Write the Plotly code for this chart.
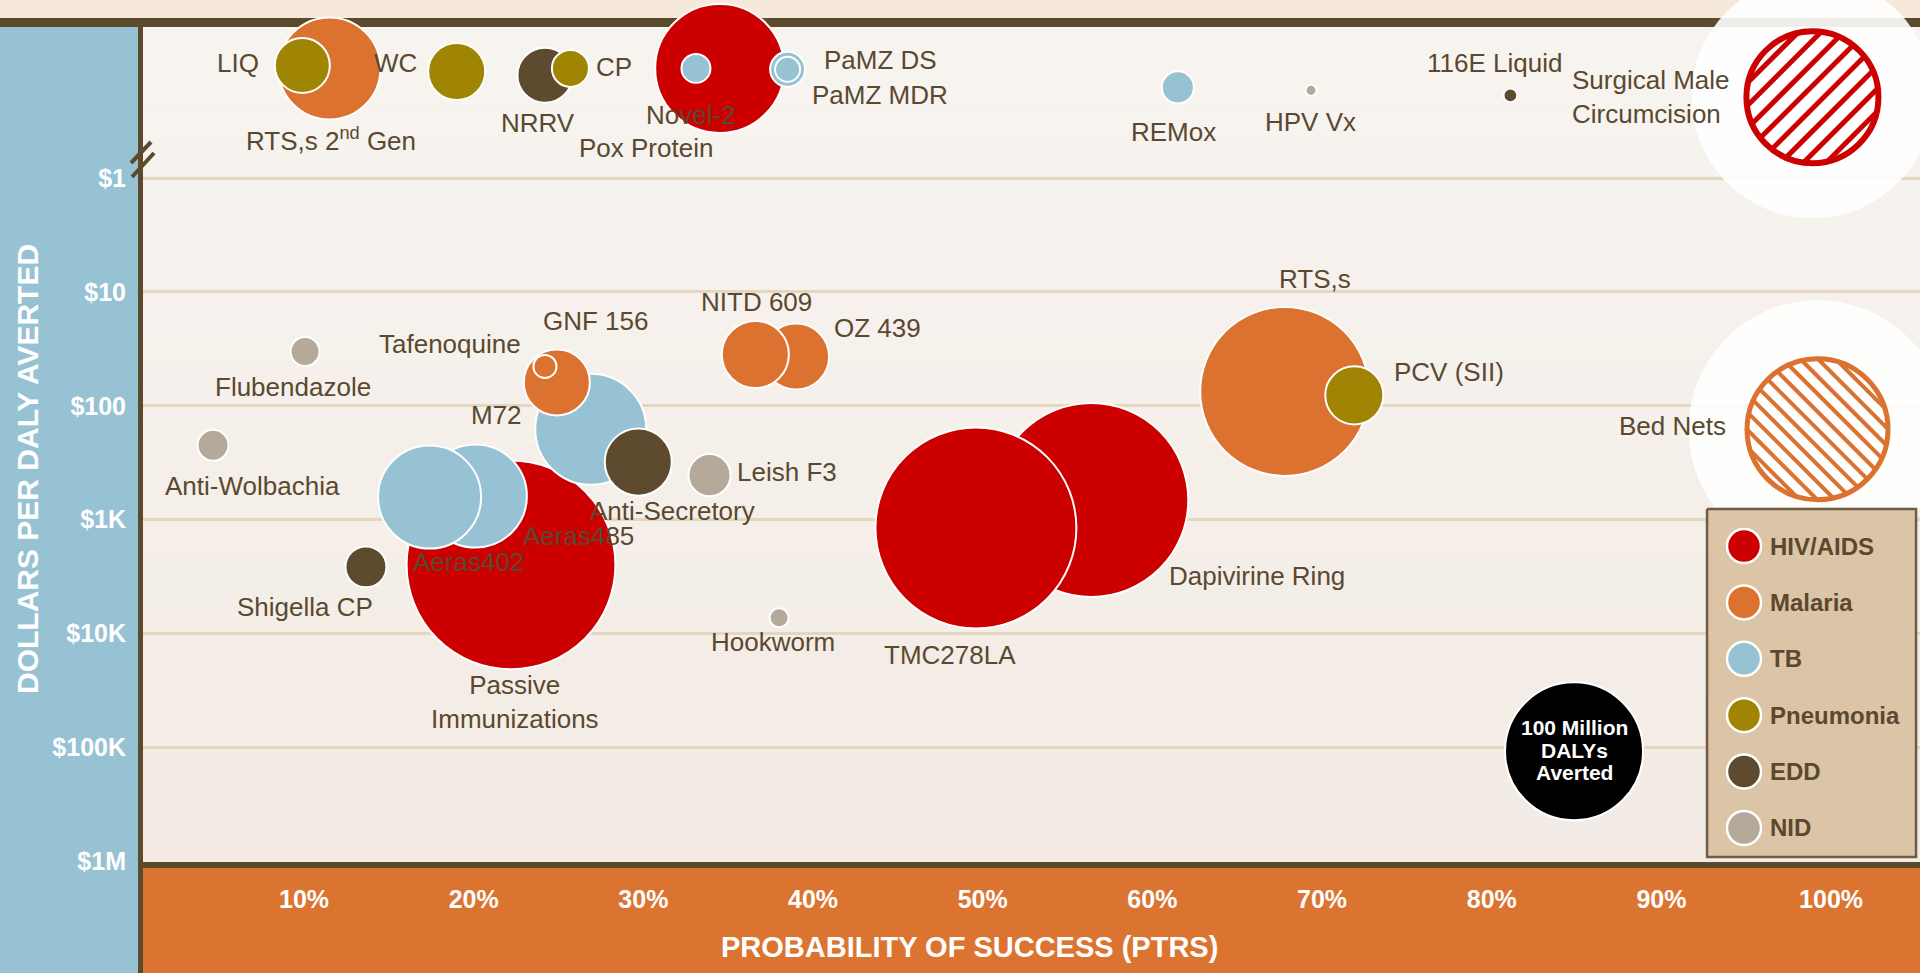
import numpy as np
import plotly.graph_objects as go

# ---------------- data ----------------
categories = ["HIV/AIDS", "Malaria", "TB", "Pneumonia", "EDD", "NID"]
cat_colors = ["#CC0000", "#DB7230", "#96C2D4", "#A08505", "#5E4A2E", "#B5A99A"]
draw_order = ["HIV/AIDS", "TB", "Malaria", "EDD", "Pneumonia", "NID"]

# products (PTRS in %, cost in $ per DALY averted, DALYs averted in millions)
prod_name = ["Pox Protein", "Passive Immunizations", "Dapivirine Ring", "TMC278LA",
             "Novel-2", "PaMZ DS", "PaMZ MDR", "REMox", "M72", "Aeras485", "Aeras402",
             "RTS,s 2nd Gen", "Tafenoquine", "GNF 156", "OZ 439", "NITD 609", "RTS,s",
             "NRRV", "116E Liquid", "Anti-Secretory", "Shigella CP",
             "LIQ", "WC", "CP", "PCV (SII)",
             "HPV Vx", "Flubendazole", "Anti-Wolbachia", "Leish F3", "Hookworm"]
prod_disease = ["HIV/AIDS"] * 4 + ["TB"] * 7 + ["Malaria"] * 6 + ["EDD"] * 4 + ["Pneumonia"] * 4 + ["NID"] * 5
prod_ptrs = [34.5, 22.2, 56.4, 49.6,
             33.1, 38.5, 38.5, 61.5, 26.9, 20.1, 17.4,
             11.5, 24.9, 24.2, 39.0, 36.6, 67.8,
             24.2, 81.1, 29.7, 13.65,
             9.9, 19.0, 25.7, 71.9,
             69.35, 10.06, 4.64, 33.9, 38.0]
prod_cost = [0.109, 2489, 671, 1180,
             0.109, 0.111, 0.111, 0.160, 160.6, 620, 632,
             0.109, 62.3, 45.1, 36.9, 35.4, 74.7,
             0.125, 0.188, 312, 2594,
             0.1026, 0.116, 0.109, 80.9,
             0.170, 33.3, 222, 406, 7244]
prod_dalys = [87.4, 229, 197.6, 212,
              4.4, 6.4, 3.3, 5.4, 64.7, 55.7, 55.7,
              54.6, 22.9, 2.8, 22.9, 23.6, 150,
              15.9, 1.0, 23.6, 8.8,
              15.9, 17.1, 7.2, 17.7,
              0.64, 4.4, 5.0, 9.3, 1.9]

# hatched interventions (already available), with halo = upper estimate of DALYs
hatch_name = ["Surgical Male Circumcision", "Bed Nets"]
hatch_disease = ["HIV/AIDS", "Malaria"]
hatch_ptrs = [98.9, 99.2]
hatch_cost = [0.195, 160.6]
hatch_dalys = [91.5, 104.4]
hatch_dalys_high = [307.5, 349.5]

# size key
key_ptrs = [84.85]
key_cost = [107900]
key_dalys = [100]
key_text = ["100 Million", "DALYs", "Averted"]

# labels
label_text = ["LIQ", "RTS,s 2<sup>nd</sup> Gen", "WC", "NRRV", "CP", "Novel-2", "Pox Protein",
              "PaMZ DS", "PaMZ MDR", "REMox", "HPV Vx", "116E Liquid",
              "Surgical Male<br>Circumcision",
              "Flubendazole", "Anti-Wolbachia", "Shigella CP", "Tafenoquine", "GNF 156", "M72",
              "Leish F3", "Anti-Secretory", "Aeras485", "Aeras402", "Passive<br>Immunizations",
              "Hookworm", "NITD 609", "OZ 439", "RTS,s", "PCV (SII)", "Dapivirine Ring",
              "TMC278LA", "Bed Nets"]
label_x = [6.11, 11.59, 15.42, 23.79, 28.27, 32.81, 30.16,
           43.95, 43.95, 61.22, 69.29, 80.14,
           84.62,
           9.35, 6.99, 10.06, 18.60, 27.21, 21.37,
           35.40, 31.69, 26.15, 19.72, 22.44,
           37.64, 36.64, 43.77, 69.59, 77.48, 66.17,
           48.07, 90.63]
label_y = [0.0975, 0.46, 0.0975, 0.327, 0.1057, 0.278, 0.541,
           0.0918, 0.186, 0.392, 0.320, 0.0975,
           0.195,
           68.2, 501, 5861, 28.7, 18.0, 119.9,
           378, 830, 1403, 2366, 40180,
           11860, 12.3, 20.8, 7.74, 50.4, 3139,
           15420, 149.6]
label_anchor = ["center"] * 12 + ["left"] + ["center"] * 6 + ["left"] + ["center"] * 12

y_tickvals = [1, 10, 100, 1e3, 1e4, 1e5, 1e6]
y_ticktext = ["$1", "$10", "$100", "$1K", "$10K", "$100K", "$1M"]
x_tickvals = [10, 20, 30, 40, 50, 60, 70, 80, 90, 100]
x_ticktext = ["10%", "20%", "30%", "40%", "50%", "60%", "70%", "80%", "90%", "100%"]

# ---------------- style ----------------
FONT = "Liberation Sans, Arial, sans-serif"
TEXT_BROWN = "#5A4830"
BROWN = "#5C4A2C"
W, H = 1920, 973
ML, MR, MT, MB = 143, 0, 27, 111
PW, PH = W - ML - MR, H - MT - MB
SIZEREF = 2 * 100 / 138 ** 2          # 100 M DALYs -> 138 px bubble
color_of = dict(zip(categories, cat_colors))
lg = np.log10                          # y axis is a log10 scale of $ per DALY


def px_x(p):
    return (p - ML) / PW


def px_y(p):
    return (H - MB - p) / PH


fig = go.Figure()

# halos behind hatched circles
fig.add_trace(go.Scatter(
    x=hatch_ptrs, y=lg(hatch_cost), mode="markers", hoverinfo="skip", showlegend=False,
    cliponaxis=False,
    marker=dict(size=hatch_dalys_high, sizemode="area", sizeref=SIZEREF, opacity=1,
                color="rgba(255,255,255,0.9)", line=dict(width=0))))

# bubbles by disease area
for cat in draw_order:
    idx = [i for i, d in enumerate(prod_disease) if d == cat]
    fig.add_trace(go.Scatter(
        x=[prod_ptrs[i] for i in idx], y=lg([prod_cost[i] for i in idx]),
        text=[prod_name[i] for i in idx], mode="markers", name=cat, showlegend=False,
        cliponaxis=False, hovertemplate="%{text}<extra></extra>",
        marker=dict(size=[prod_dalys[i] for i in idx], sizemode="area", sizeref=SIZEREF,
                    color=color_of[cat], opacity=1, line=dict(color="#FFFFFF", width=2))))

# hatched circles (ring)
fig.add_trace(go.Scatter(
    x=hatch_ptrs, y=lg(hatch_cost), text=hatch_name, mode="markers", showlegend=False,
    cliponaxis=False, hovertemplate="%{text}<extra></extra>",
    marker=dict(size=hatch_dalys, sizemode="area", sizeref=SIZEREF, color="#FFFFFF", opacity=1,
                line=dict(color=[color_of[d] for d in hatch_disease], width=[6, 5]))))

# size key circle
fig.add_trace(go.Scatter(
    x=key_ptrs, y=lg(key_cost), mode="markers", showlegend=False, hoverinfo="skip",
    marker=dict(size=key_dalys, sizemode="area", sizeref=SIZEREF, color="#000000", opacity=1,
                line=dict(color="#FFFFFF", width=2))))
for k, t in enumerate(key_text):
    fig.add_annotation(x=key_ptrs[0], y=lg(key_cost[0]), xref="x", yref="y",
                       text=f"<b>{t}</b>", showarrow=False, yshift=(1 - k) * 22.5 + 1,
                       xanchor="center", yanchor="middle",
                       font=dict(family=FONT, size=21, color="#FFFFFF"))

# hatch lines (pixel offsets anchored on data point)
hatch_spec = [dict(spacing=16, phase=0.5, direction=1, width=5),
              dict(spacing=12.5, phase=0.0, direction=-1, width=4)]
for i, spec in enumerate(hatch_spec):
    r = 0.5 * np.sqrt(2 * hatch_dalys[i] / SIZEREF)
    s2 = np.sqrt(0.5)
    if spec["direction"] == 1:
        u, n = (s2, s2), (-s2, s2)
    else:
        u, n = (s2, -s2), (s2, s2)
    kmax = int(r // spec["spacing"]) + 1
    for k in range(-kmax, kmax + 1):
        d = (k + spec["phase"]) * spec["spacing"]
        if abs(d) >= r - 3:
            continue
        h = np.sqrt(r * r - d * d)
        cx, cy = d * n[0], d * n[1]
        fig.add_shape(type="line", xref="x", yref="y", xsizemode="pixel", ysizemode="pixel",
                      xanchor=hatch_ptrs[i], yanchor=float(lg(hatch_cost[i])),
                      x0=cx - h * u[0], y0=cy - h * u[1], x1=cx + h * u[0], y1=cy + h * u[1],
                      line=dict(color=color_of[hatch_disease[i]], width=spec["width"]))

# labels
for t, lx, ly, anc in zip(label_text, label_x, label_y, label_anchor):
    fig.add_annotation(x=lx, y=lg(ly), xref="x", yref="y", text=t, showarrow=False,
                       xanchor=anc, yanchor="middle", align=anc,
                       font=dict(family=FONT, size=26, color=TEXT_BROWN))

# ---------------- custom legend (secondary axes) ----------------
leg_idx = list(range(len(categories)))
fig.add_trace(go.Scatter(
    x=[0.032, 0.982, 0.982, 0.032, 0.032], y=[-0.656, -0.656, 5.514, 5.514, -0.656],
    xaxis="x2", yaxis="y2", mode="lines", fill="toself", fillcolor="#DCC4A6",
    line=dict(color="#6E5C44", width=2.5), hoverinfo="skip", showlegend=False))
fig.add_trace(go.Scatter(
    x=[0.2] * len(categories), y=leg_idx, xaxis="x2", yaxis="y2", mode="markers",
    hoverinfo="skip", showlegend=False, cliponaxis=False,
    marker=dict(size=34, color=cat_colors, opacity=1, line=dict(color="#FFFFFF", width=2.5))))
for i, c in enumerate(categories):
    fig.add_annotation(x=0.309, y=i, xref="x2", yref="y2", text=f"<b>{c}</b>",
                       showarrow=False, xanchor="left", yanchor="middle",
                       font=dict(family=FONT, size=24, color=TEXT_BROWN))

# ---------------- frame decorations ----------------
shapes = []
# plot background: soft vertical gradient (lighter at top, warmer at bottom)
top_rgb = np.array([247, 244, 240])
bot_rgb = np.array([243, 235, 228])
n_band = 30
for b in range(n_band):
    t = (b + 0.5) / n_band
    c = (top_rgb * (1 - t) + bot_rgb * t).round().astype(int)
    shapes.append(dict(type="rect", xref="paper", yref="paper", x0=0, x1=1,
                       y0=1 - (b + 1) / n_band, y1=1 - b / n_band,
                       fillcolor=f"rgb({c[0]},{c[1]},{c[2]})", line=dict(width=0), layer="below"))
shapes += [
    dict(type="rect", xref="paper", yref="paper", x0=px_x(0), x1=px_x(138), y0=px_y(H), y1=px_y(27),
         fillcolor="#97C2D3", line=dict(width=0), layer="below"),
    dict(type="rect", xref="paper", yref="paper", x0=px_x(143), x1=px_x(W), y0=px_y(H), y1=px_y(868),
         fillcolor="#DC7431", line=dict(width=0), layer="below"),
    dict(type="rect", xref="paper", yref="paper", x0=px_x(138), x1=px_x(143), y0=px_y(H), y1=px_y(27),
         fillcolor=BROWN, line=dict(width=0), layer="below"),
    dict(type="rect", xref="paper", yref="paper", x0=px_x(138), x1=px_x(W), y0=px_y(868), y1=px_y(862),
         fillcolor=BROWN, line=dict(width=0), layer="below"),
    dict(type="rect", xref="paper", yref="paper", x0=px_x(0), x1=px_x(W), y0=px_y(27), y1=px_y(18),
         fillcolor=BROWN, line=dict(width=0), layer="below"),
    dict(type="line", xref="paper", yref="paper", x0=px_x(131), y0=px_y(163), x1=px_x(151), y1=px_y(142),
         line=dict(color=BROWN, width=4)),
    dict(type="line", xref="paper", yref="paper", x0=px_x(132), y0=px_y(177), x1=px_x(154), y1=px_y(153),
         line=dict(color=BROWN, width=4)),
]
for s in shapes:
    fig.add_shape(**s)

# axis titles
fig.add_annotation(x=px_x(27), y=px_y(469), xref="paper", yref="paper", textangle=-90,
                   xanchor="center", yanchor="middle",
                   text="<b>DOLLARS PER DALY AVERTED</b>", showarrow=False,
                   font=dict(family=FONT, size=30, color="#FFFFFF"))
fig.add_annotation(x=px_x(969), y=px_y(947), xref="paper", yref="paper",
                   xanchor="center", yanchor="middle",
                   text="<b>PROBABILITY OF SUCCESS (PTRS)</b>", showarrow=False,
                   font=dict(family=FONT, size=29, color="#FFFFFF"))

y_top = -1.326
y_bot = 6.005
fig.update_layout(
    width=W, height=H, margin=dict(l=ML, r=MR, t=MT, b=MB),
    paper_bgcolor="#F6E9DB", plot_bgcolor="rgba(0,0,0,0)",
    showlegend=False,
    xaxis=dict(range=[0.511, 105.24], tickvals=x_tickvals, ticktext=x_ticktext,
               showgrid=False, zeroline=False, showline=False, ticks="",
               ticklabelstandoff=20,
               tickfont=dict(family=FONT, size=25, color="#FFFFFF", weight="bold")),
    yaxis=dict(range=[y_bot, y_top], tickvals=lg(y_tickvals), ticktext=y_ticktext,
               showgrid=True, gridcolor="#E4D7C0", gridwidth=3, zeroline=False, showline=False,
               ticks="", ticklabelstandoff=16,
               tickfont=dict(family=FONT, size=25, color="#FFFFFF", weight="bold")),
    xaxis2=dict(domain=[px_x(1700), 1.0], range=[0, 1], anchor="y2", visible=False, fixedrange=True),
    yaxis2=dict(domain=[px_y(862), px_y(500)], range=[5.603, -0.816], anchor="x2", visible=False,
                fixedrange=True),
)

fig.write_html("out.html", config={"displayModeBar": False},
               post_script="document.body.style.margin='0';document.body.style.overflow='hidden';")
